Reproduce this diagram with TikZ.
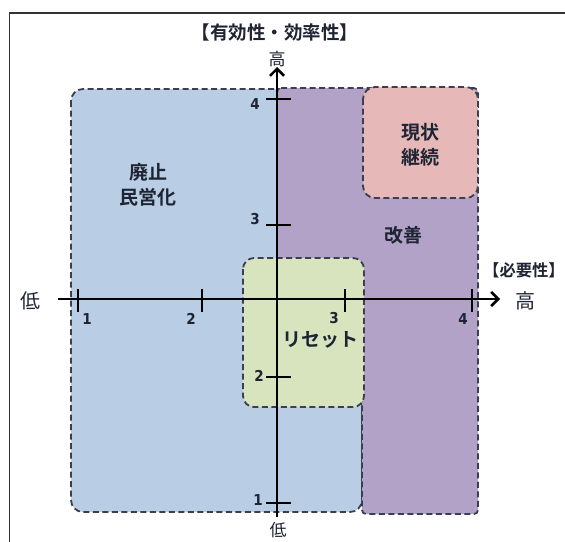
\documentclass[tikz,border=0pt]{standalone}
\usepackage{fontspec}
\setmainfont{Noto Sans CJK JP}[BoldFont={Noto Sans CJK JP Bold}]
\newfontfamily\jpb{Noto Sans CJK JP Bold}
\newfontfamily\digitfont{DejaVu Sans Condensed Bold}
\usetikzlibrary{arrows.meta}
\definecolor{bluefill}{HTML}{B9CDE5}
\definecolor{purplefill}{HTML}{B3A2C7}
\definecolor{greenfill}{HTML}{D7E4BD}
\definecolor{pinkfill}{HTML}{E6B9B8}
\definecolor{bordercol}{HTML}{3A3E4E}
\definecolor{txtcol}{HTML}{1E2433}
\tikzset{
  zone/.style={draw=bordercol, line width=1.8pt, dash pattern=on 6pt off 3.5pt},
  axisline/.style={draw=black, line width=2.6pt},
  tickline/.style={draw=black, line width=2pt},
  ticklabel/.style={font=\digitfont\fontsize{15}{15}\selectfont, text=txtcol, inner sep=0pt},
  zonelabel/.style={font=\jpb\fontsize{19}{25}\selectfont, text=txtcol, align=center, inner sep=0pt},
  axislabel/.style={font=\fontsize{20}{20}\selectfont, text=txtcol, inner sep=0pt},
  axislabelsm/.style={font=\fontsize{17}{17}\selectfont, text=txtcol, inner sep=0pt},
  titlelabel/.style={font=\jpb\fontsize{18.5}{18.5}\selectfont, text=txtcol, inner sep=0pt},
  needlabel/.style={font=\jpb\fontsize{16.3}{16.3}\selectfont, text=txtcol, inner sep=0pt}
}
\begin{document}
\begin{tikzpicture}[x=1pt,y=-1pt]
\useasboundingbox (0,0) rectangle (565,541);
% frame
\draw[line width=1.6pt, draw=black!80] (9.5,600) -- (9.5,13) -- (600,13);
% zones
\path[zone, fill=bluefill, rounded corners=12pt] (71,89) rectangle (362,512);
\path[zone, fill=purplefill, rounded corners=4pt] (277,88) -- (478,88) -- (478,514) -- (362,514) -- (362,300) -- (277,300) -- cycle;
\path[zone, fill=greenfill, rounded corners=11pt] (243,258) rectangle (364,407);
\path[zone, fill=pinkfill, rounded corners=12pt] (363,87) rectangle (478,198);
% axes
\coordinate (xs) at (58,299);
\coordinate (xe) at (500,299);
\coordinate (ys) at (277,517);
\coordinate (ye) at (277,67);
\draw[axisline, -{Straight Barb[length=7pt,width=14pt,line width=2.6pt]}] (xs) -- (xe);
\draw[axisline, -{Straight Barb[length=7pt,width=14pt,line width=2.6pt]}] (ys) -- (ye);
% ticks on horizontal axis
\foreach \x in {78,202,345,472} \draw[tickline] (\x,289) -- (\x,312);
% ticks on vertical axis
\foreach \y in {99,225,377,503} \draw[tickline] (266,\y) -- (291,\y);
% tick labels
\node[ticklabel] (h1) at (87,319) {1};
\node[ticklabel] (h2) at (191,319) {2};
\node[ticklabel] (h3) at (334,318) {3};
\node[ticklabel] (h4) at (463,319) {4};
\node[ticklabel] (v4) at (255,104) {4};
\node[ticklabel] (v3) at (255,219) {3};
\node[ticklabel] (v2) at (259,376) {2};
\node[ticklabel] (v1) at (258,500) {1};
% axis labels
\node[axislabel] (lo) at (30,301) {低};
\node[axislabel] (hi) at (525,301) {高};
\node[axislabelsm] (top) at (277,59) {高};
\node[axislabelsm] (bot) at (278,530) {低};
\node[titlelabel] (title) at (275,32) {【有効性・効率性】};
\node[needlabel, anchor=west] (need) at (483,270) {【必要性】};
% zone labels
\node[zonelabel] (haishi) at (148,185) {廃止\\民営化};
\node[zonelabel] (genjo) at (420,145) {現状\\継続};
\node[zonelabel] (kaizen) at (403,235) {改善};
\node[zonelabel] (reset) at (320,340) {リセット};
\end{tikzpicture}
\end{document}
